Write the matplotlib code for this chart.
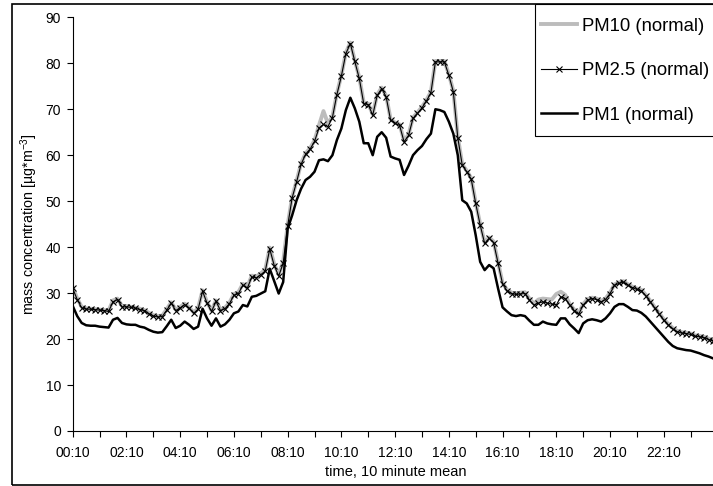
import matplotlib
matplotlib.use("Agg")
import matplotlib.pyplot as plt
from matplotlib.patches import Rectangle

plt.rcParams["font.family"] = ["Liberation Sans", "DejaVu Sans"]

# 10 minute means, 00:10 .. 24:00 (144 values)
PM25 = [
    31.0, 28.6, 26.8, 26.5, 26.5, 26.4, 26.3, 26.2, 26.0, 28.1,
    28.6, 27.0, 27.0, 26.9, 26.7, 26.4, 26.2, 25.5, 25.0, 24.8,
    24.9, 26.3, 27.8, 26.2, 26.8, 27.5, 26.7, 25.6, 26.5, 30.4,
    27.8, 26.0, 28.2, 26.2, 26.6, 27.7, 29.5, 29.9, 31.7, 31.1,
    33.5, 33.3, 34.0, 34.8, 39.6, 36.0, 33.7, 36.5,
    44.6, 50.7, 54.2, 58.0, 60.2, 61.3, 63.0, 65.9, 66.7, 66.2,
    68.2, 73.2, 77.2, 82.1, 84.3, 80.4, 76.7, 71.2, 71.0, 68.7,
    73.0, 74.5, 72.7, 67.6, 66.9, 66.5, 62.9, 64.3, 68.0, 69.1,
    70.3, 71.8, 73.6, 80.3, 80.3, 80.3, 77.4, 73.8, 63.8, 57.8,
    56.4, 54.8, 49.5, 44.8,
    40.8, 41.9, 41.0, 36.5, 32.0, 30.5, 29.9, 29.7, 29.8, 29.9,
    28.5, 27.4, 27.8, 28.1, 27.8, 27.6, 27.4, 29.2, 28.8, 27.4,
    26.2, 25.4, 27.4, 28.5, 28.8, 28.6, 28.1, 28.6, 29.9, 31.7,
    32.1, 32.4, 31.7, 31.2, 30.8, 30.5, 29.4, 28.1, 26.7, 25.4,
    24.1, 23.1, 22.2, 21.6, 21.3, 21.2, 21.0, 20.6, 20.5, 20.3,
    19.9, 19.6,
]

PM10 = [
    31.3, 28.8, 27.0, 26.7, 26.6, 26.5, 26.4, 26.3, 26.2, 28.4,
    28.8, 27.2, 27.2, 27.0, 26.8, 26.6, 26.3, 25.7, 25.2, 25.0,
    25.1, 26.5, 28.0, 26.4, 27.0, 27.7, 26.9, 25.8, 26.7, 30.6,
    28.0, 26.2, 28.4, 26.4, 26.8, 27.9, 29.8, 30.2, 32.0, 31.4,
    33.8, 33.6, 34.3, 35.1, 39.9, 36.3, 34.0, 36.8,
    44.8, 50.9, 54.4, 58.2, 60.4, 61.5, 63.2, 66.5, 69.6, 66.9,
    68.4, 73.4, 77.4, 82.3, 84.5, 80.6, 76.9, 71.4, 71.2, 68.9,
    73.2, 74.7, 72.9, 67.8, 67.1, 66.7, 63.1, 64.5, 68.2, 69.3,
    70.5, 72.0, 73.8, 80.5, 80.5, 80.5, 77.6, 74.0, 64.0, 58.0,
    56.6, 55.0, 49.7, 45.0,
    41.0, 42.1, 41.2, 36.7, 32.2, 30.7, 30.1, 29.9, 30.1, 30.2,
    28.8, 27.7, 28.6, 28.8, 28.7, 28.6, 29.8, 30.3, 29.6, 27.6,
    26.4, 25.6, 27.6, 28.7, 29.0, 28.8, 28.3, 28.8, 30.1, 31.9,
    32.3, 32.6, 31.9, 31.4, 31.0, 30.7, 29.6, 28.3, 26.9, 25.6,
    24.3, 23.3, 22.4, 21.8, 21.5, 21.4, 21.2, 20.8, 20.7, 20.5,
    20.1, 19.8,
]

PM1 = [
    27.2, 25.0, 23.5, 23.0, 22.9, 22.9, 22.7, 22.6, 22.5, 24.2,
    24.6, 23.5, 23.2, 23.1, 23.1, 22.7, 22.5, 22.0, 21.6, 21.4,
    21.5, 22.8, 24.2, 22.4, 22.9, 23.8, 23.1, 22.2, 22.7, 26.6,
    24.5, 22.9, 24.5, 22.7, 23.2, 24.2, 25.6, 26.0, 27.4, 27.1,
    29.2, 29.4, 29.9, 30.4, 35.3, 32.6, 29.9, 32.4,
    44.0, 46.9, 50.2, 52.7, 54.6, 55.3, 56.4, 58.9, 59.1, 58.7,
    60.0, 63.3, 65.8, 69.8, 72.5, 70.2, 67.3, 62.6, 62.6, 60.0,
    64.0, 65.0, 63.8, 59.7, 59.3, 59.0, 55.7, 57.7, 60.0, 61.1,
    62.0, 63.5, 64.7, 70.0, 69.8, 69.4, 67.3, 64.7, 60.0, 50.2,
    49.5, 47.7, 42.6, 36.8,
    35.0, 36.1, 35.4, 31.0, 26.9, 26.0, 25.2, 25.0, 25.2, 25.0,
    24.0, 23.1, 23.1, 23.8, 23.4, 23.2, 23.1, 24.5, 24.5, 23.2,
    22.3, 21.3, 23.4, 24.1, 24.3, 24.1, 23.8, 24.5, 25.6, 27.0,
    27.6, 27.6, 27.0, 26.3, 26.2, 25.7, 24.9, 23.8, 22.7, 21.6,
    20.5, 19.4, 18.5, 18.0, 17.8, 17.6, 17.5, 17.2, 16.9, 16.5,
    16.2, 15.8,
]

TIME_LABELS = ["00:10", "02:10", "04:10", "06:10", "08:10", "10:10",
               "12:10", "14:10", "16:10", "18:10", "20:10", "22:10"]

x = list(range(len(PM25)))

fig = plt.figure(figsize=(7.13, 4.86), dpi=100)
ax = fig.add_axes([0.102, 0.1132, 0.898, 0.8512])

ax.plot(x, PM10, color="#bcbcbc", lw=2.8, label="PM10 (normal)", zorder=2)
ax.plot(x, PM25, color="black", lw=0.8, marker="x", ms=4.5, mew=0.8,
        label="PM2.5 (normal)", zorder=3)
ax.plot(x, PM1, color="black", lw=1.8, label="PM1 (normal)", zorder=4)

ax.set_xlim(0, 143)
ax.set_ylim(0, 90)
ax.set_yticks(range(0, 91, 10))
ax.set_xticks(range(0, 144, 12))
ax.set_xticklabels(TIME_LABELS)
ax.set_xticks(range(6, 144, 12), minor=True)
ax.tick_params(axis="both", which="both", direction="out", length=4,
               width=0.8, labelsize=10, colors="black")
ax.tick_params(axis="x", pad=7)
ax.tick_params(axis="y", pad=4.5)
for s in ("top", "right"):
    ax.spines[s].set_visible(False)
for s in ("left", "bottom"):
    ax.spines[s].set_linewidth(0.8)

fig.text(396 / 713, 1 - 472 / 486, "time, 10 minute mean",
         ha="center", va="center", fontsize=10.5)
fig.text(29 / 713, 1 - 224 / 486, "mass concentration [µg*m$^{\\mathregular{-3}}$]",
         ha="center", va="center", rotation=90, fontsize=10.3)

# legend box runs past the right edge of the picture
fig.patches.append(Rectangle((535 / 713, 1 - 136 / 486), 1, 132 / 486,
                             transform=fig.transFigure, facecolor="white",
                             edgecolor="black", lw=0.8, zorder=5))
handles, labels = ax.get_legend_handles_labels()
leg = fig.legend(handles, labels, loc="upper left",
                 bbox_to_anchor=(535 / 713, 1 - 12 / 486),
                 bbox_transform=fig.transFigure, fontsize=13.3, frameon=False,
                 borderpad=0.3, labelspacing=1.5, handlelength=2.0,
                 handletextpad=0.25, borderaxespad=0, numpoints=1)
leg.set_zorder(6)

fig.patches.append(Rectangle((12 / 713, 1 / 486), 2, 481 / 486,
                             transform=fig.transFigure, fill=False,
                             edgecolor="black", lw=1.2))

fig.savefig("out.png", dpi=100)
